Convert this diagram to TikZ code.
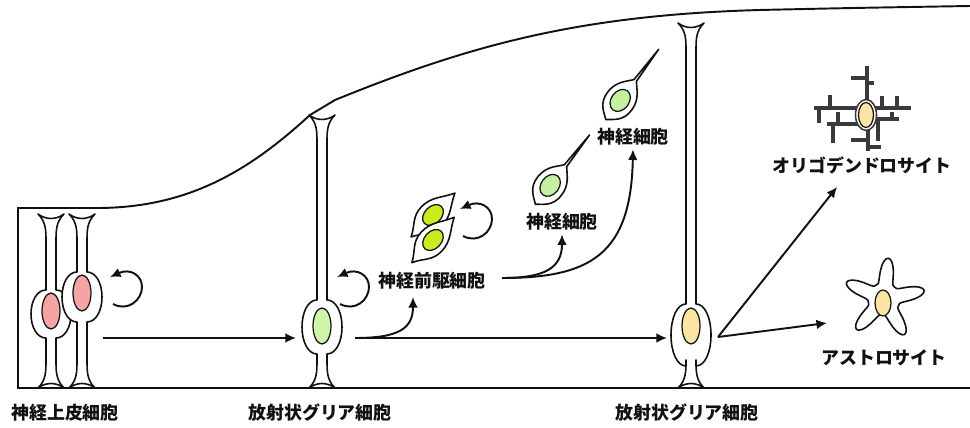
\documentclass[tikz,border=0pt]{standalone}
\usepackage{fontspec}
\newfontfamily\jpfont{Noto Sans CJK JP}
\usetikzlibrary{arrows.meta}
\definecolor{NeuroInk}{HTML}{111111}
\definecolor{NeuroProcess}{HTML}{3A3A3A}
\definecolor{NeuroEpi}{HTML}{F5A3A3}
\definecolor{NeuroGlia}{HTML}{CFF5A8}
\definecolor{NeuroPrecursor}{HTML}{CDEA1E}
\definecolor{NeuroNeuron}{HTML}{C6F0A0}
\definecolor{NeuroLate}{HTML}{FCE4A2}
\tikzset{
  neuro label/.style={font=\jpfont\bfseries\fontsize{10.2}{12}\selectfont, text=NeuroInk, inner sep=2pt},
  neuro outline/.style={draw=NeuroInk, line width=1.1pt},
  neuro cell/.style={draw=NeuroInk, fill=white, line width=.9pt, line join=round},
  neuro nucleus/.style={draw=NeuroInk, line width=.7pt},
  neuro arrow/.style={draw=NeuroInk, line width=1.1pt, -{Latex[length=6pt,width=5.5pt]}},
  neuro process/.style={draw=NeuroProcess, line width=1.9pt},
}
% radial cell: x, top, bottom, bulge y, bulge half height, nucleus y, nucleus colour
\newcommand{\RadialCell}[7]{%
  \draw[neuro cell] ({#1-13},#2) .. controls ({#1-5},{#2+8}) and ({#1-5},{#2+16}) .. ({#1-5},{#2+28})
    -- ({#1-5},{#4-#5})
    .. controls ({#1-14},{#4-#5}) and ({#1-20},{#4-0.55*#5}) .. ({#1-20},#4)
    .. controls ({#1-20},{#4+0.55*#5}) and ({#1-14},{#4+#5}) .. ({#1-5},{#4+#5})
    -- ({#1-5},{#3-28})
    .. controls ({#1-5},{#3-16}) and ({#1-5},{#3-8}) .. ({#1-13},#3)
    .. controls ({#1-5},{#3-6}) and ({#1+5},{#3-6}) .. ({#1+13},#3)
    .. controls ({#1+5},{#3-8}) and ({#1+5},{#3-16}) .. ({#1+5},{#3-28})
    -- ({#1+5},{#4+#5})
    .. controls ({#1+14},{#4+#5}) and ({#1+20},{#4+0.55*#5}) .. ({#1+20},#4)
    .. controls ({#1+20},{#4-0.55*#5}) and ({#1+14},{#4-#5}) .. ({#1+5},{#4-#5})
    -- ({#1+5},{#2+28})
    .. controls ({#1+5},{#2+16}) and ({#1+5},{#2+8}) .. ({#1+13},#2)
    .. controls ({#1+5},{#2+6}) and ({#1-5},{#2+6}) .. cycle;
  \draw[neuro nucleus, fill=#7] (#1,#6) ellipse [x radius=9, y radius=18];
}
% spindle-shaped precursor: x, y, angle
\newcommand{\Precursor}[3]{%
  \begin{scope}[shift={(#1,#2)}, rotate=#3]
    \draw[neuro cell] (-31,0) .. controls (-20,-5) and (-16,-14) .. (-2,-14)
      .. controls (12,-14) and (18,-6) .. (31,0)
      .. controls (18,6) and (12,14) .. (-2,14)
      .. controls (-16,14) and (-20,5) .. cycle;
    \draw[neuro nucleus, fill=NeuroPrecursor] (0,0) ellipse [x radius=12, y radius=8.5];
  \end{scope}
}
% neuron with axon: x, y, angle
\newcommand{\Neuron}[3]{%
  \begin{scope}[shift={(#1,#2)}, rotate=#3]
    \draw[neuro cell] (-27,0) .. controls (-22,-6) and (-18,-15) .. (-4,-15)
      .. controls (10,-15) and (16,-6) .. (22,-1.5) -- (61,0) -- (22,1.5)
      .. controls (16,6) and (10,15) .. (-4,15)
      .. controls (-18,15) and (-22,6) .. cycle;
    \draw[neuro nucleus, fill=NeuroNeuron] (-3,0) ellipse [x radius=12, y radius=9];
  \end{scope}
}
% self-renewal loop around x, y
\newcommand{\SelfRenew}[2]{%
  \draw[neuro arrow] ({#1-12},{#2+16}) .. controls ({#1+3},{#2+24}) and ({#1+17},{#2+12}) .. ({#1+17},{#2-1})
    .. controls ({#1+17},{#2-13}) and ({#1+5},{#2-20}) .. ({#1-15},{#2-11});
}

\begin{document}
\begin{tikzpicture}[x=0.02cm,y=-0.02cm]
  \useasboundingbox (0,0) rectangle (970,428);

  % neuroepithelium
  \RadialCell{51}{214}{388}{314}{24}{311}{NeuroEpi}
  \RadialCell{82}{214}{388}{297}{25}{293}{NeuroEpi}
  \SelfRenew{125}{288}

  % radial glia, early
  \RadialCell{322}{115}{388}{327}{27}{326}{NeuroGlia}
  \SelfRenew{352}{288}

  % neural precursors
  \Precursor{433}{215}{45}
  \Precursor{433}{240}{47}
  \SelfRenew{475}{220}

  % neurons
  \Neuron{552}{183}{52}
  \Neuron{622}{98}{53}

  % radial glia, late
  \RadialCell{691}{23}{388}{335}{31}{326}{NeuroLate}

  % oligodendrocyte
  \foreach \xa/\ya/\xb/\yb in {867/66/867/105, 851/78/867/78, 867/83/874/83,
      814/108/860/108, 830/95/830/108, 819/108/819/123,
      827/124/860/124, 838/112/838/124, 833/124/833/143,
      868/122/868/151, 851/140/868/140, 868/147/881/147,
      875/108/911/108, 882/96/882/108, 897/96/897/108,
      875/119/899/119, 878/119/878/141, 892/112/892/119}
    \draw[neuro process] (\xa,\ya) -- (\xb,\yb);
  \draw[neuro cell, draw=NeuroProcess] (866,115) ellipse [x radius=10.5, y radius=15.5];
  \draw[neuro nucleus, fill=NeuroLate] (866,115) ellipse [x radius=7.5, y radius=12.5];

  % astrocyte
  \draw[neuro cell] plot[domain=0:357, samples=120, smooth cycle, variable=\t]
    ({884+(16+25*((1+cos(5*(\t-12)))/2)^2)*cos(\t)},
     {299-(16+25*((1+cos(5*(\t-12)))/2)^2)*sin(\t)});
  \draw[neuro nucleus, fill=NeuroLate] (883,303) ellipse [x radius=8, y radius=13];

  % tissue outline
  \draw[neuro outline] (970,388) -- (18,388) -- (18,208) -- (100,208)
    .. controls (190,207) and (250,170) .. (310,115) -- (335,100)
    .. controls (470,45) and (580,15) .. (760,10) .. controls (850,8) .. (970,6);

  % labels
  \node[neuro label] (ne) at (65,413) {神経上皮細胞};
  \node[neuro label] (rg1) at (320,413) {放射状グリア細胞};
  \node[neuro label] (rg2) at (687,413) {放射状グリア細胞};
  \node[neuro label] (npc) at (432,281) {神経前駆細胞};
  \node[neuro label] (n1) at (562,222) {神経細胞};
  \node[neuro label] (n2) at (633,137) {神経細胞};
  \node[neuro label] (oligo) at (862,165) {オリゴデンドロサイト};
  \node[neuro label] (astro) at (884,358) {アストロサイト};

  % lineage arrows
  \coordinate (ne out) at (103,338);
  \coordinate (rg1 in) at (296,338);
  \coordinate (rg1 out) at (355,338);
  \coordinate (rg2 in) at (667,338);
  \coordinate (rg2 out) at (718,337);
  \coordinate (npc in) at (413,297);
  \coordinate (npc out) at (502,278);
  \coordinate (oligo in) at (837,187);
  \coordinate (astro in) at (827,323);

  \draw[neuro arrow] (ne out) -- (rg1 in);
  \draw[neuro arrow] (rg1 out) -- (rg2 in);
  \draw[neuro arrow] (rg1 out) .. controls (400,338) and (413,328) .. (npc in);
  \draw[neuro arrow] (npc out) .. controls (545,278) and (562,268) .. (n1.south);
  \draw[neuro arrow] (npc out) .. controls (590,278) and (631,255) .. (n2.south);
  \draw[neuro arrow] (rg2 out) -- (oligo in);
  \draw[neuro arrow] (rg2 out) -- (astro in);
\end{tikzpicture}
\end{document}
